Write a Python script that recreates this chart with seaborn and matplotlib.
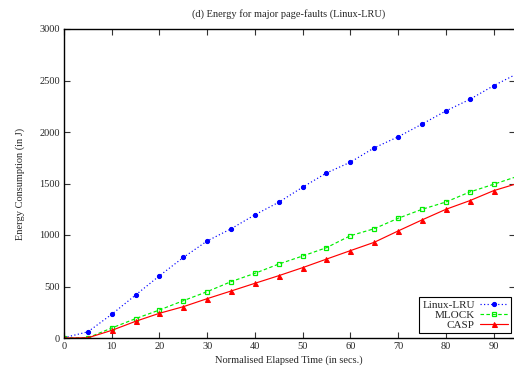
import matplotlib
matplotlib.use("Agg")
import matplotlib.pyplot as plt
import seaborn as sns
import pandas as pd

time = [0, 5, 10, 15, 20, 25, 30, 35, 40, 45, 50, 55, 60, 65, 70, 75, 80, 85, 90, 95]
linux_lru = [3, 60, 230, 417, 604, 782, 942, 1060, 1196, 1318, 1464, 1602, 1707, 1846, 1953, 2076, 2204, 2316, 2449, 2567]
mlock = [0, 2, 97, 188, 272, 362, 450, 547, 628, 718, 796, 877, 993, 1061, 1162, 1249, 1320, 1417, 1492, 1569]
casp = [0, 2, 74, 162, 240, 304, 382, 456, 531, 605, 683, 766, 848, 929, 1039, 1146, 1249, 1333, 1430, 1500]

series_names = ["Linux-LRU", "MLOCK", "CASP"]
title = "(d) Energy for major page-faults (Linux-LRU)"
xlabel = "Normalised Elapsed Time (in secs.)"
ylabel = "Energy Consumption (in J)"
xticks = [0, 10, 20, 30, 40, 50, 60, 70, 80, 90]
yticks = [0, 500, 1000, 1500, 2000, 2500, 3000]

sns.set_style("ticks")
plt.rcParams["font.family"] = ["Liberation Serif", "DejaVu Serif"]
plt.rcParams["font.size"] = 7.5

fig = plt.figure(figsize=(5.14, 3.72), dpi=100)
ax = fig.add_axes([64 / 514, 1 - 338 / 372, 1 - 64 / 514 + 0.001, (338 - 29) / 372])

styles = [
    dict(color="#0000ff", linestyle=(0, (1, 2)), marker="o", markersize=3,
         markerfacecolor="#0000ff", markeredgecolor="#0000ff"),
    dict(color="#00ee00", linestyle=(0, (3, 2)), marker="s", markersize=3.4,
         markerfacecolor="none", markeredgecolor="#00ee00", markeredgewidth=0.9),
    dict(color="#ff0000", linestyle="-", marker="^", markersize=3.6,
         markerfacecolor="#ff0000", markeredgecolor="#ff0000"),
]
for name, vals, st in zip(series_names, [linux_lru, mlock, casp], styles):
    df = pd.DataFrame({"t": time, "v": vals})
    sns.lineplot(data=df, x="t", y="v", ax=ax, label=name, linewidth=0.85,
                 clip_on=True, **st)

ax.set_xlim(0, 94.4)
ax.set_ylim(0, 3000)
ax.set_xticks(xticks)
ax.set_yticks(yticks)
ax.tick_params(direction="in", length=4, width=0.8, color="#333333",
               top=True, right=True, labelsize=7.5, pad=3)
for sp in ax.spines.values():
    sp.set_linewidth(1)
    sp.set_color("black")
ax.set_xlabel(xlabel, fontsize=7.5, labelpad=3)
ax.set_ylabel(ylabel, fontsize=7.5, labelpad=10)
fig.text(0.5 + 32 / 514, 1 - 14 / 372, title, ha="center", va="center", fontsize=7.5)

leg = ax.legend(loc="lower right", markerfirst=False, frameon=True, fancybox=False,
                edgecolor="black", framealpha=1, fontsize=8, handlelength=2.5,
                borderpad=0.3, labelspacing=0.0, handletextpad=0.5,
                bbox_to_anchor=(0.993, 0.016), borderaxespad=0)
leg.get_frame().set_linewidth(0.8)

fig.savefig("out.png", dpi=100)
